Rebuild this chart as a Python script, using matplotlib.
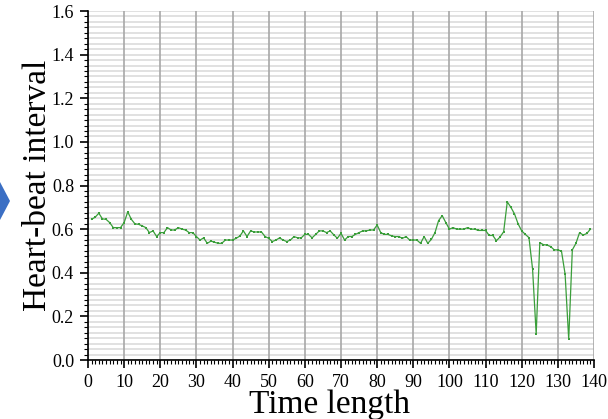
import matplotlib.pyplot as plt
from matplotlib.patches import Polygon
from matplotlib.ticker import MultipleLocator

# heart-beat interval per time step
time = list(range(1, 140))
interval = [
    0.645, 0.655, 0.673, 0.647, 0.645, 0.630, 0.607, 0.607, 0.607, 0.630,
    0.679, 0.645, 0.624, 0.622, 0.615, 0.607, 0.584, 0.592, 0.566, 0.584,
    0.584, 0.607, 0.596, 0.596, 0.607, 0.600, 0.596, 0.584, 0.584, 0.566,
    0.550, 0.560, 0.535, 0.545, 0.540, 0.535, 0.535, 0.550, 0.550, 0.550,
    0.558, 0.568, 0.592, 0.566, 0.592, 0.587, 0.587, 0.587, 0.566, 0.558,
    0.543, 0.550, 0.560, 0.550, 0.543, 0.550, 0.566, 0.560, 0.560, 0.576,
    0.576, 0.560, 0.576, 0.592, 0.592, 0.584, 0.592, 0.574, 0.558, 0.581,
    0.550, 0.566, 0.566, 0.576, 0.584, 0.592, 0.592, 0.596, 0.596, 0.619,
    0.584, 0.576, 0.576, 0.569, 0.566, 0.566, 0.558, 0.566, 0.550, 0.550,
    0.550, 0.535, 0.566, 0.535, 0.553, 0.584, 0.639, 0.662, 0.630, 0.600,
    0.607, 0.600, 0.600, 0.600, 0.607, 0.600, 0.600, 0.594, 0.594, 0.594,
    0.571, 0.571, 0.547, 0.564, 0.588, 0.725, 0.700, 0.670, 0.624, 0.592,
    0.576, 0.561, 0.417, 0.119, 0.538, 0.529, 0.527, 0.520, 0.505, 0.505,
    0.499, 0.394, 0.095, 0.505, 0.535, 0.584, 0.573, 0.580, 0.600,
]

plt.rcParams['font.family'] = ['Liberation Serif', 'DejaVu Serif']

fig = plt.figure(figsize=(6.08, 4.19), dpi=100)
ax = fig.add_axes([0.1447, 0.1408, 0.8323, 0.8329])

ax.plot(time, interval, color='#3a9e3a', linewidth=0.9,
        marker='s', markersize=2.1, markeredgewidth=0, zorder=3)

ax.set_xlim(0, 140)
ax.set_ylim(0, 1.6)
ax.xaxis.set_major_locator(MultipleLocator(10))
ax.xaxis.set_minor_locator(MultipleLocator(1))
ax.yaxis.set_major_locator(MultipleLocator(0.2))
ax.yaxis.set_minor_locator(MultipleLocator(0.025))
ax.yaxis.set_major_formatter(lambda v, p: f'{v:.1f}')

ax.grid(axis='y', which='both', color='#dcdcdc', linewidth=1.2)
ax.grid(axis='x', which='major', color='#a8a8a8', linewidth=1.2)
ax.set_axisbelow(True)
ax.xaxis.set_zorder(0.6)  # vertical grid over the horizontal one

for side in ('top', 'right'):
    ax.spines[side].set_visible(False)
for side in ('left', 'bottom'):
    ax.spines[side].set_linewidth(1.2)

ax.tick_params(which='major', direction='out', length=6, width=1.2, labelsize=13, pad=4)
ax.tick_params(which='minor', direction='out', length=3, width=0.8)

ax.set_xlabel('Time length', fontsize=24, labelpad=-2)
ax.xaxis.set_label_coords(0.478, -0.085)
ax.set_ylabel('Heart-beat interval', fontsize=24, labelpad=-1)

# partial blue arrow at the left edge of the slide
fig.patches.append(Polygon([(0, 1 - 182 / 419), (10 / 608, 1 - 201 / 419), (0, 1 - 220 / 419)],
                           closed=True, transform=fig.transFigure,
                           facecolor='#3b6fc4', edgecolor='none'))

fig.savefig('out.png', dpi=100)
